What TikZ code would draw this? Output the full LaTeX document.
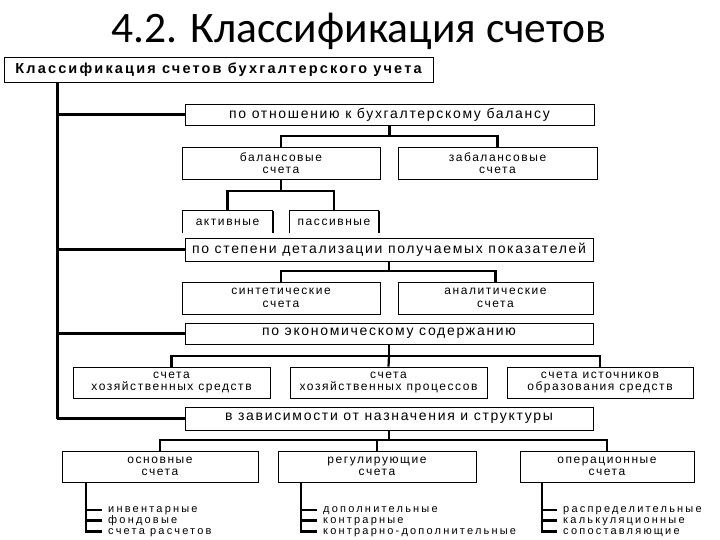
\documentclass[tikz,border=0pt]{standalone}
\usepackage{fontspec}
\setmainfont{Liberation Sans}
\newfontfamily\titlefont{Carlito}
\newfontfamily\hdrfont[LetterSpace=12]{Liberation Sans}
\newfontfamily\subfont[LetterSpace=13]{Liberation Sans}
\newfontfamily\itemfont[LetterSpace=20]{Liberation Sans}
\newfontfamily\topfont[LetterSpace=15]{Liberation Sans}
\usetikzlibrary{shadows}
\tikzset{
  boxbase/.style={line width=0.9pt, inner sep=0pt, align=center},
  box/.style={boxbase, draw, fill=white,
    drop shadow={shadow xshift=1.3pt, shadow yshift=-1.3pt, opacity=1, fill=black}},
  hdr/.style={box, font=\hdrfont\fontsize{14}{16}\selectfont},
  sub/.style={box, font=\subfont\fontsize{12}{12.5}\selectfont},
  open/.style={boxbase, font=\subfont\fontsize{12}{12.5}\selectfont},
  item/.style={inner sep=0pt, anchor=west, text height=7.2pt, text depth=2.2pt,
    font=\itemfont\fontsize{11}{11}\selectfont},
  conn/.style={line width=2.2pt},
  trunkline/.style={line width=3pt},
  openline/.style={line width=1pt}
}
\begin{document}
\begin{tikzpicture}[x=1pt,y=-1pt]
\useasboundingbox[fill=white] (0,0) rectangle (720,540);

\node[anchor=base, inner sep=0pt, font=\titlefont\fontsize{43.5}{48}\selectfont] (title) at (359,43) {4.2. Классификация счетов};

\node[box, font=\topfont\bfseries\fontsize{14.5}{16}\selectfont, minimum width=429pt, minimum height=25pt] (top) at (218.5,69.5) {Классификация счетов бухгалтерского учета};

\node[hdr, minimum width=409pt, minimum height=21pt] (rel) at (389.5,114.5) {по отношению к бухгалтерскому балансу};
\node[sub, minimum width=198pt, minimum height=32pt] (bal) at (281,163) {балансовые\\счета};
\node[sub, minimum width=199pt, minimum height=32pt] (zab) at (497.5,163) {забалансовые\\счета};
\node[open, minimum width=89pt, minimum height=22pt] (akt) at (227.5,222) {активные};
\node[open, minimum width=88pt, minimum height=22pt] (pas) at (334,222) {пассивные};

\node[hdr, minimum width=408pt, minimum height=23pt] (det) at (389,249.5) {по степени детализации получаемых показателей};
\node[sub, minimum width=198pt, minimum height=32pt] (syn) at (281,298) {синтетические\\счета};
\node[sub, minimum width=195pt, minimum height=32pt] (ana) at (495.5,298) {аналитические\\счета};

\node[hdr, minimum width=408pt, minimum height=21pt] (eco) at (389,333.5) {по экономическому содержанию};
\node[sub, minimum width=197pt, minimum height=31pt] (xs) at (171.5,382.5) {счета\\хозяйственных средств};
\node[sub, minimum width=197pt, minimum height=31pt] (xp) at (388.5,382.5) {счета\\хозяйственных процессов};
\node[sub, minimum width=186pt, minimum height=31pt] (src) at (600,382.5) {счета источников\\образования средств};

\node[hdr, minimum width=408pt, minimum height=23pt] (naz) at (389,418.5) {в зависимости от назначения и структуры};
\node[sub, minimum width=196pt, minimum height=31pt] (osn) at (160,466.5) {основные\\счета};
\node[sub, minimum width=198pt, minimum height=31pt] (reg) at (377,466.5) {регулирующие\\счета};
\node[sub, minimum width=174pt, minimum height=31pt] (opr) at (607,466.5) {операционные\\счета};

\node[item] (i1) at (108,510) {инвентарные};
\node[item] (i2) at (108,520.5) {фондовые};
\node[item] (i3) at (108,531.5) {счета расчетов};
\node[item] (r1) at (323,510) {дополнительные};
\node[item] (r2) at (323,520.5) {контрарные};
\node[item] (r3) at (323,531.5) {контрарно-дополнительные};
\node[item] (o1) at (563,510) {распределительные};
\node[item] (o2) at (563,520.5) {калькуляционные};
\node[item] (o3) at (563,531.5) {сопоставляющие};

% open boxes
\draw[openline] (akt.south west) |- (akt.north east) -- (akt.south east);
\draw[openline] (pas.south west) |- (pas.north east) -- (pas.south east);
\draw[line width=2.2pt] ([xshift=0.6pt]akt.north east) -- ([xshift=0.6pt]akt.south east);
\draw[line width=2.2pt] ([xshift=0.6pt]pas.north east) -- ([xshift=0.6pt]pas.south east);

% trunk
\coordinate (T) at (57,82);
\draw[trunkline] (T) -- (T |- naz.west);
\foreach \n in {rel,det,eco,naz} \draw[conn] (T |- \n.west) -- (\n.west);

% sub connectors
\coordinate (h1) at (389.5,136);
\draw[conn] (rel.south) -- (h1);
\draw[conn] (bal.north) |- (h1) -| (zab.north);
\coordinate (h2) at (281,191);
\draw[conn] (bal.south) -- (h2);
\draw[conn] (akt.north) |- (h2) -| (pas.north);
\coordinate (h3) at (389,271);
\draw[conn] (det.south) -- (h3);
\draw[conn] (syn.north) |- (h3) -| (ana.north);
\coordinate (h4) at (389,356);
\draw[conn] (eco.south) -- (h4);
\draw[conn] (xs.north) |- (h4) -| (src.north);
\draw[conn] (h4) -- (xp.north);
\coordinate (h5) at (389,440);
\draw[conn] (naz.south) -- (h5);
\draw[conn] (osn.north) |- (h5) -| (opr.north);
\draw[conn] (reg.north) -- (reg.north |- h5);

% lists
\coordinate (l1) at (86,482);
\coordinate (l2) at (301,482);
\coordinate (l3) at (542,482);
\draw[conn] (l1) |- ([xshift=-6pt]i3.west);
\draw[conn] (l1 |- i1.west) -- ([xshift=-6pt]i1.west);
\draw[conn] (l1 |- i2.west) -- ([xshift=-6pt]i2.west);
\draw[conn] (l2) |- ([xshift=-6pt]r3.west);
\draw[conn] (l2 |- r1.west) -- ([xshift=-6pt]r1.west);
\draw[conn] (l2 |- r2.west) -- ([xshift=-6pt]r2.west);
\draw[conn] (l3) |- ([xshift=-6pt]o3.west);
\draw[conn] (l3 |- o1.west) -- ([xshift=-6pt]o1.west);
\draw[conn] (l3 |- o2.west) -- ([xshift=-6pt]o2.west);
\end{tikzpicture}
\end{document}
